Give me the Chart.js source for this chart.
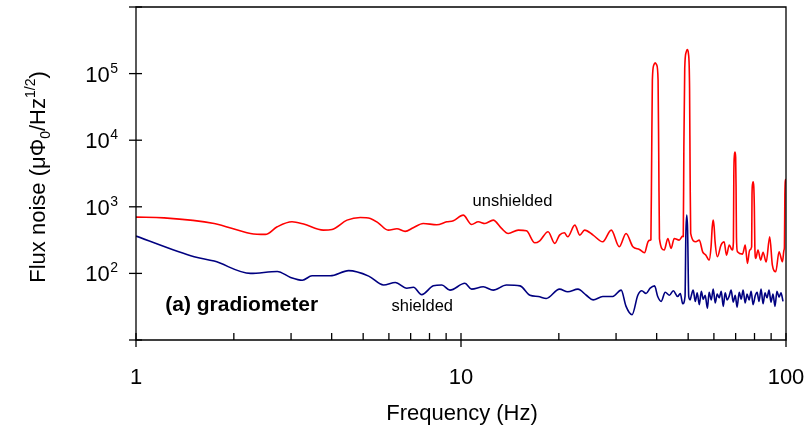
<!DOCTYPE html>
<html lang="en">
<head>
    <meta charset="UTF-8">
    <title>Flux noise</title>
    <style>
        body {
            margin: 0;
            padding: 0;
            background: #fff;
        }
        #wrap {
            width: 805px;
            height: 429px;
        }
    </style>
    <script src="https://cdn.jsdelivr.net/npm/chart.js"></script>
</head>
<body>
    <div id="wrap">
        <canvas id="noise" width="805" height="429"></canvas>
    </div>
    <script>
        // unshielded (red)
        const freqRed = [1.00, 1.22, 1.74, 2.25, 2.50, 2.72, 3.02, 3.28, 3.77, 4.01, 4.46, 4.90, 5.26, 5.56, 5.97, 6.35, 6.73, 7.13, 7.65, 8.42, 9.04, 9.47,
            10.16, 10.78, 11.30, 11.85, 12.56, 13.33, 13.97, 15.0, 15.9, 16.87, 17.47, 18.53, 19.43, 20.1, 20.8, 21.3, 22.4, 23.2, 24.0, 25.5, 27.3, 29.0,
            30.7, 32.2, 33.8, 35.4, 36.7, 37.6, 38.2, 38.4, 38.6, 38.8, 39.2, 39.6, 40.0, 40.4, 40.6, 40.8,
            42.2, 43.3, 44.3, 45.3, 46.9, 48.1, 48.3, 48.5, 48.8, 49.3, 49.7, 50.1, 50.5, 50.7, 50.9,
            52.8, 54.1, 55.4, 56.7, 58.0, 58.8, 59.3, 59.7, 60.1, 60.5, 61.5, 63.1, 64.5, 65.6, 66.9, 68.3,
            68.9, 69.1, 69.4, 69.7, 70.0, 70.2, 70.4, 70.9, 73.5, 74.9, 76.1, 77.3,
            78.4, 78.6, 78.9, 79.2, 79.6, 79.9, 80.2, 80.7, 82.0, 83.6, 85.0, 86.9, 89.1, 90.8, 93.0, 95.2, 97.5, 98.6,
            98.9, 99.2, 99.6, 100];
        const fluxRed = [700, 683, 562, 398, 385, 501, 595, 550, 447, 457, 631, 692, 669, 575, 447, 468, 427, 484, 562, 537, 595, 617,
            750, 543, 595, 562, 631, 473, 398, 447, 436, 288, 309, 422, 282, 376, 407, 355, 531, 376, 447, 376, 298, 447,
            251, 398, 251, 229, 204, 298, 316, 320, 5000, 80000, 135000, 145000, 135000, 80000, 5000, 330,
            224, 335, 237, 335, 316, 363, 360, 8000, 120000, 210000, 230000, 200000, 60000, 3000, 400,
            298, 316, 211, 188, 158, 250, 500, 631, 500, 300, 178, 266, 298, 188, 266, 224,
            300, 3000, 6000, 6640, 5500, 2000, 350, 211, 195, 266, 141, 224,
            250, 1500, 2200, 2370, 2000, 1000, 250, 168, 224, 158, 208, 148, 355, 133, 106, 211, 150, 224,
            250, 1500, 2500, 2600];

        // shielded (blue)
        const freqBlue = [1.00, 1.51, 1.74, 2.25, 2.72, 2.99, 3.25, 3.48, 3.96, 4.51, 5.20, 5.78, 6.28, 6.81, 7.14, 7.57, 8.22, 8.73, 9.25,
            10.28, 10.78, 11.71, 12.56, 13.8, 15.2, 16.3, 17.3, 18.3, 20.1, 21.3, 22.9, 24.3, 25.5, 27.3, 29.3, 31.1, 32.2, 33.6,
            35.0, 36.0, 37.1, 38.2, 39.4, 40.3, 41.3, 42.5, 43.8, 45.0, 46.4, 47.3, 48.1, 48.9, 49.2, 49.5, 49.8, 50.2, 50.7,
            51.1, 51.8, 52.6, 53.3, 54.1, 54.9, 55.6, 56.4, 57.3, 58.0, 58.9, 59.7, 60.6, 61.4, 62.3, 63.2,
            64.1, 65.0, 65.9, 66.9, 67.8, 68.8, 69.8, 70.7, 71.8, 72.8, 73.8, 74.9, 75.9, 77.0, 78.1, 79.2,
            80.4, 81.5, 82.6, 83.8, 85.0, 86.2, 87.4, 88.7, 89.9, 91.2, 92.5, 93.8, 95.2, 96.5, 97.9, 99.3, 100];
        const fluxBlue = [363, 178, 153, 100, 107, 87, 79, 92, 92, 110, 91, 67, 73, 60, 62, 48, 65, 67, 56,
            71, 58, 63, 56, 67, 65, 47, 45, 42, 58, 53, 58, 47, 40, 45, 45, 56, 32, 24,
            47, 55, 50, 60, 65, 45, 38, 52, 47, 55, 45, 50, 35, 45, 400, 750, 450, 45, 40,
            46, 56, 38, 51, 34, 54, 41, 47, 30, 52, 40, 58, 36, 49,
            43, 54, 32, 51, 40, 46, 56, 37, 47, 31, 52, 41, 56, 36, 49, 40,
            54, 34, 46, 52, 38, 58, 35, 51, 43, 56, 37, 49, 32, 54, 44, 51, 38];

        const xMajorTicks = [1, 10, 100];
        const xMinorTicks = [2, 3, 4, 5, 6, 7, 8, 9, 20, 30, 40, 50, 60, 70, 80, 90];
        const yTicks = [10, 100, 1000, 10000, 100000, 1000000];
        const yLabelExp = { 100: '2', 1000: '3', 10000: '4', 100000: '5' };

        const FONT = "'Liberation Sans', Arial, sans-serif";

        function toPoints(xs, ys) {
            return xs.map((x, i) => ({ x: x, y: ys[i] }));
        }

        // axes, ticks, labels and notes drawn by hand so superscripts work
        const axesPlugin = {
            id: 'axesPlugin',
            afterDraw(chart) {
                const ctx = chart.ctx;
                const xs = chart.scales.x;
                const ys = chart.scales.y;
                const a = chart.chartArea;
                ctx.save();
                ctx.strokeStyle = '#000';
                ctx.lineWidth = 1.3;

                // frame
                ctx.beginPath();
                ctx.moveTo(a.left, a.top);
                ctx.lineTo(a.right, a.top);
                ctx.lineTo(a.right, a.bottom);
                ctx.lineTo(a.left, a.bottom);
                ctx.closePath();
                ctx.stroke();

                // y ticks (cross the axis)
                yTicks.forEach(v => {
                    const py = ys.getPixelForValue(v);
                    ctx.beginPath();
                    ctx.moveTo(a.left - 7, py);
                    ctx.lineTo(a.left + 6, py);
                    ctx.stroke();
                });

                // x ticks
                xMinorTicks.forEach(v => {
                    const px = xs.getPixelForValue(v);
                    ctx.beginPath();
                    ctx.moveTo(px, a.bottom - 7);
                    ctx.lineTo(px, a.bottom);
                    ctx.stroke();
                });
                xMajorTicks.forEach(v => {
                    const px = xs.getPixelForValue(v);
                    ctx.beginPath();
                    ctx.moveTo(px, a.bottom - 7);
                    ctx.lineTo(px, a.bottom + 7);
                    ctx.stroke();
                });

                ctx.fillStyle = '#000';
                ctx.textBaseline = 'alphabetic';

                // x tick labels
                ctx.font = '22px ' + FONT;
                ctx.textAlign = 'center';
                xMajorTicks.forEach(v => {
                    ctx.fillText(String(v), xs.getPixelForValue(v), 384);
                });

                // y tick labels 10^n
                Object.keys(yLabelExp).forEach(k => {
                    const py = ys.getPixelForValue(Number(k));
                    const right = 118;
                    ctx.textAlign = 'right';
                    ctx.font = '14px ' + FONT;
                    ctx.fillText(yLabelExp[k], right, py - 1);
                    const w = ctx.measureText(yLabelExp[k]).width;
                    ctx.font = '22px ' + FONT;
                    ctx.fillText('10', right - w - 0.5, py + 8);
                });

                // x title
                ctx.textAlign = 'center';
                ctx.font = '22px ' + FONT;
                ctx.fillText('Frequency (Hz)', (xs.getPixelForValue(1) + xs.getPixelForValue(100)) / 2 + 1, 420);

                // y title, rotated, with sub/superscripts
                const parts = [
                    ['Flux noise (\u03bc\u03a6', 22, 0],
                    ['0', 14, 5],
                    ['/Hz', 22, 0],
                    ['1/2', 14, -10],
                    [')', 22, 0]
                ];
                let total = 0;
                parts.forEach(p => {
                    ctx.font = p[1] + 'px ' + FONT;
                    p.push(ctx.measureText(p[0]).width);
                    total += p[3];
                });
                ctx.translate(45, 177);
                ctx.rotate(-Math.PI / 2);
                ctx.textAlign = 'left';
                let cx = -total / 2;
                parts.forEach(p => {
                    ctx.font = p[1] + 'px ' + FONT;
                    ctx.fillText(p[0], cx, p[2]);
                    cx += p[3];
                });
                ctx.setTransform(1, 0, 0, 1, 0, 0);

                // notes
                ctx.textAlign = 'center';
                ctx.font = '16.5px ' + FONT;
                ctx.fillText('unshielded', xs.getPixelForValue(14.4), ys.getPixelForValue(1030));
                ctx.fillText('shielded', xs.getPixelForValue(7.6), ys.getPixelForValue(27.2));
                ctx.textAlign = 'left';
                ctx.font = 'bold 21px ' + FONT;
                ctx.fillText('(a) gradiometer', xs.getPixelForValue(1.23), ys.getPixelForValue(27.2));

                ctx.restore();
            }
        };

        const ctx = document.getElementById('noise').getContext('2d');
        new Chart(ctx, {
            type: 'line',
            data: {
                datasets: [{
                    label: 'unshielded',
                    data: toPoints(freqRed, fluxRed),
                    borderColor: '#ff0000',
                    borderWidth: 1.6,
                    pointRadius: 0,
                    cubicInterpolationMode: 'monotone'
                }, {
                    label: 'shielded',
                    data: toPoints(freqBlue, fluxBlue),
                    borderColor: '#000080',
                    borderWidth: 1.6,
                    pointRadius: 0,
                    cubicInterpolationMode: 'monotone'
                }]
            },
            options: {
                responsive: false,
                animation: false,
                layout: {
                    padding: { left: 136, right: 19, top: 7, bottom: 89 }
                },
                plugins: {
                    legend: { display: false },
                    tooltip: { enabled: false }
                },
                scales: {
                    x: { type: 'logarithmic', min: 1, max: 100, display: false },
                    y: { type: 'logarithmic', min: 10, max: 1000000, display: false }
                }
            },
            plugins: [axesPlugin]
        });
    </script>
</body>
</html>
